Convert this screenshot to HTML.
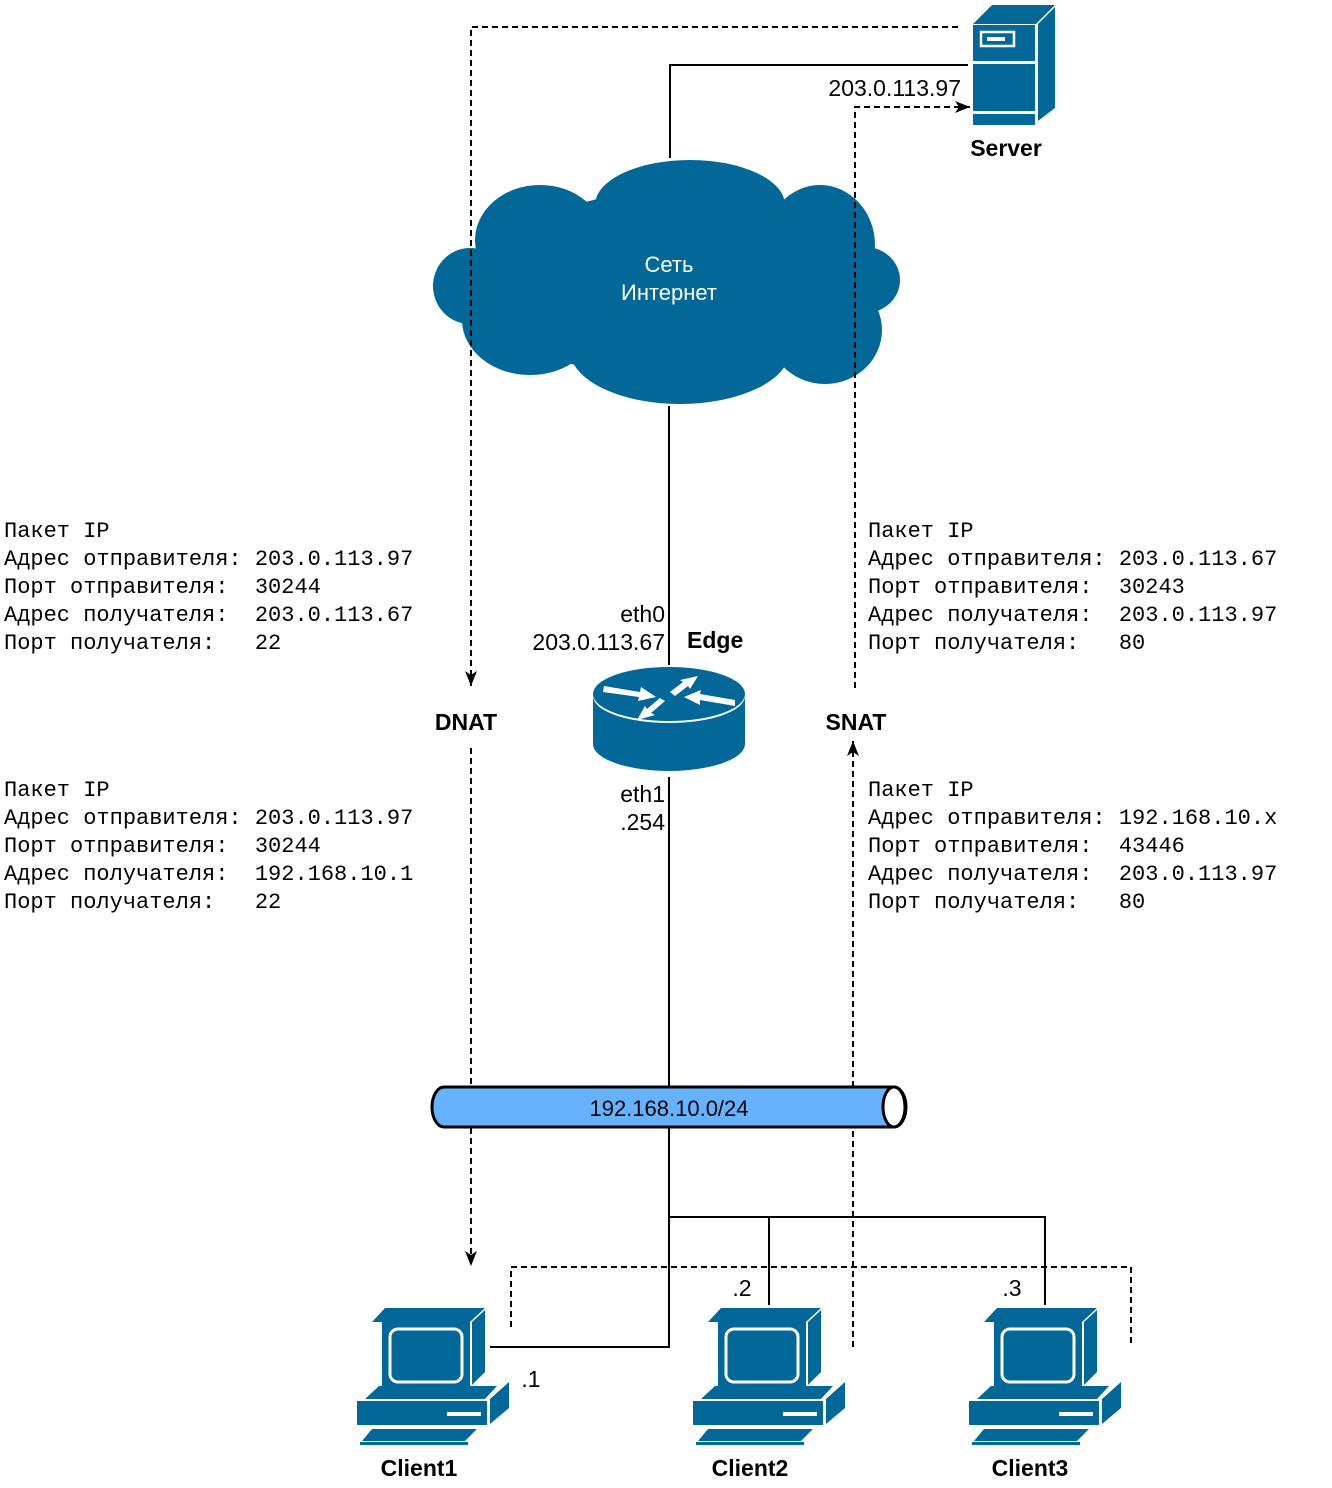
<!DOCTYPE html>
<html><head><meta charset="utf-8"><style>
html,body{margin:0;padding:0;background:#fff;width:1332px;height:1488px;overflow:hidden;position:relative}
.mono{position:absolute;font-family:"Liberation Mono","DejaVu Sans Mono",monospace;font-size:22px;line-height:28px;white-space:pre;color:#000;margin:0}
</style></head><body>
<svg width="1332" height="1488" style="position:absolute;left:0;top:0" xmlns="http://www.w3.org/2000/svg">
<defs>
<g id="pc">
 <polygon points="28,0 128,0 113,14 15,14" fill="#036897"/>
 <rect x="25" y="14" width="88" height="66" fill="#036897"/>
 <polygon points="115,14 128,2 128,64 115,77" fill="#036897"/>
 <rect x="33" y="21" width="72" height="53" rx="8" fill="none" stroke="#fff" stroke-width="3"/>
 <polygon points="22,78 140,78 128,91 8,91" fill="#036897"/>
 <rect x="0" y="93" width="130" height="24" fill="#036897"/>
 <polygon points="133,91 152,74 152,100 133,116" fill="#036897"/>
 <rect x="90" y="104" width="34" height="4" fill="#fff"/>
 <polygon points="15,121 120,121 108,133 5,133" fill="#036897"/>
 <rect x="3" y="134" width="108" height="3" fill="#036897"/>
</g>
<marker id="ar" markerWidth="16" markerHeight="16" refX="15" refY="8" orient="auto" markerUnits="userSpaceOnUse"><path d="M0,2 L15,8 L0,14 L4,8 z" fill="#000"/></marker>
</defs>
<!-- cloud -->
<g fill="#036897">
<ellipse cx="690" cy="205" rx="95" ry="45"/>
<ellipse cx="540" cy="240" rx="65" ry="55"/>
<ellipse cx="820" cy="245" rx="55" ry="60"/>
<ellipse cx="470" cy="286" rx="37" ry="38"/>
<ellipse cx="865" cy="280" rx="35" ry="33"/>
<ellipse cx="530" cy="320" rx="68" ry="55"/>
<ellipse cx="680" cy="350" rx="110" ry="54"/>
<ellipse cx="825" cy="330" rx="57" ry="54"/>
<ellipse cx="680" cy="285" rx="195" ry="95"/>
<rect x="500" y="225" width="350" height="130"/>
</g>
<text x="669" y="272" font-family="Liberation Sans,sans-serif" font-size="22" fill="#fff" text-anchor="middle">Сеть</text>
<text x="669" y="300" font-family="Liberation Sans,sans-serif" font-size="22" fill="#fff" text-anchor="middle">Интернет</text>
<!-- solid lines -->
<g stroke="#000" stroke-width="2" fill="none">
<polyline points="670,158 670,65 968,65"/>
<line x1="669" y1="406" x2="669" y2="665"/>
<line x1="669" y1="777" x2="669" y2="1087"/>
<polyline points="669,1127 669,1347 490,1347"/>
<polyline points="669,1217 1045,1217 1045,1305"/>
<line x1="769" y1="1217" x2="769" y2="1305"/>
</g>
<!-- dashed -->
<g stroke="#000" stroke-width="2" fill="none" stroke-dasharray="6,4">
<polyline points="958,27 471,27 471,686" marker-end="url(#ar)"/>
<line x1="471" y1="748" x2="471" y2="1266" marker-end="url(#ar)"/>
<line x1="853" y1="1347" x2="853" y2="741" marker-end="url(#ar)"/>
<polyline points="855,688 855,107 970,107" marker-end="url(#ar)"/>
<polyline points="511,1327 511,1267 1131,1267 1131,1347"/>
</g>
<!-- server -->
<g fill="#036897">
<polygon points="992,5 1055,5 1036,24 973,24"/>
<rect x="973" y="25" width="62" height="100"/>
<polygon points="1038,24 1055,7 1055,108 1038,121"/>
</g>
<rect x="972" y="61" width="64" height="3" fill="#fff"/>
<rect x="972" y="111" width="64" height="3" fill="#fff"/>
<rect x="981" y="32" width="33" height="14" fill="none" stroke="#fff" stroke-width="2.5"/>
<rect x="987" y="37" width="18" height="4" fill="#fff"/>
<text x="1006" y="156" font-family="Liberation Sans,sans-serif" font-size="23" font-weight="bold" text-anchor="middle">Server</text>
<text x="961" y="96" font-family="Liberation Sans,sans-serif" font-size="23" text-anchor="end">203.0.113.97</text>
<!-- router -->
<path d="M593,694 L593,744 A76,27 0 0 0 745,744 L745,694 Z" fill="#036897"/>
<ellipse cx="669" cy="696" rx="76" ry="27" fill="#fff"/>
<ellipse cx="669" cy="694" rx="76" ry="27" fill="#036897"/>
<g fill="#fff">
<polygon points="604,686 640,692 641,687 656,697 638,701 639,697 603,692"/>
<polygon points="735,706 700,700 700,705 684,697 701,690 700,694 735,700"/>
<polygon points="670,692 683,682 680,680 698,676 690,689 688,686 675,696"/>
<polygon points="665,701 651,713 655,715 637,720 645,706 647,709 660,698"/>
</g>
<g font-family="Liberation Sans,sans-serif" font-size="23">
<text x="665" y="622" text-anchor="end">eth0</text>
<text x="665" y="650" text-anchor="end">203.0.113.67</text>
<text x="687" y="648" font-weight="bold">Edge</text>
<text x="665" y="802" text-anchor="end">eth1</text>
<text x="665" y="830" text-anchor="end">.254</text>
<text x="466" y="730" font-weight="bold" text-anchor="middle">DNAT</text>
<text x="856" y="730" font-weight="bold" text-anchor="middle">SNAT</text>
<text x="531" y="1387" text-anchor="middle">.1</text>
<text x="742" y="1296" text-anchor="middle">.2</text>
<text x="1012" y="1296" text-anchor="middle">.3</text>
</g>
<!-- bus -->
<path d="M444,1087 L894,1087 A12,20 0 0 1 894,1127 L444,1127 A12,20 0 0 1 444,1087 Z" fill="#66B2FF" stroke="#000" stroke-width="3"/>
<ellipse cx="894" cy="1107" rx="11" ry="20" fill="#fff" stroke="#000" stroke-width="3"/>
<text x="669" y="1116" font-family="Liberation Sans,sans-serif" font-size="22" text-anchor="middle">192.168.10.0/24</text>
<!-- clients -->
<use href="#pc" x="357" y="1308"/>
<use href="#pc" x="693" y="1308"/>
<use href="#pc" x="969" y="1308"/>
<g font-family="Liberation Sans,sans-serif" font-size="23" font-weight="bold" text-anchor="middle">
<text x="419" y="1476">Client1</text>
<text x="750" y="1476">Client2</text>
<text x="1030" y="1476">Client3</text>
</g>
</svg>
<pre class="mono" style="left:4px;top:518px">Пакет IP
Адрес отправителя: 203.0.113.97
Порт отправителя:  30244
Адрес получателя:  203.0.113.67
Порт получателя:   22</pre>
<pre class="mono" style="left:868px;top:518px">Пакет IP
Адрес отправителя: 203.0.113.67
Порт отправителя:  30243
Адрес получателя:  203.0.113.97
Порт получателя:   80</pre>
<pre class="mono" style="left:4px;top:777px">Пакет IP
Адрес отправителя: 203.0.113.97
Порт отправителя:  30244
Адрес получателя:  192.168.10.1
Порт получателя:   22</pre>
<pre class="mono" style="left:868px;top:777px">Пакет IP
Адрес отправителя: 192.168.10.x
Порт отправителя:  43446
Адрес получателя:  203.0.113.97
Порт получателя:   80</pre>
</body></html>
